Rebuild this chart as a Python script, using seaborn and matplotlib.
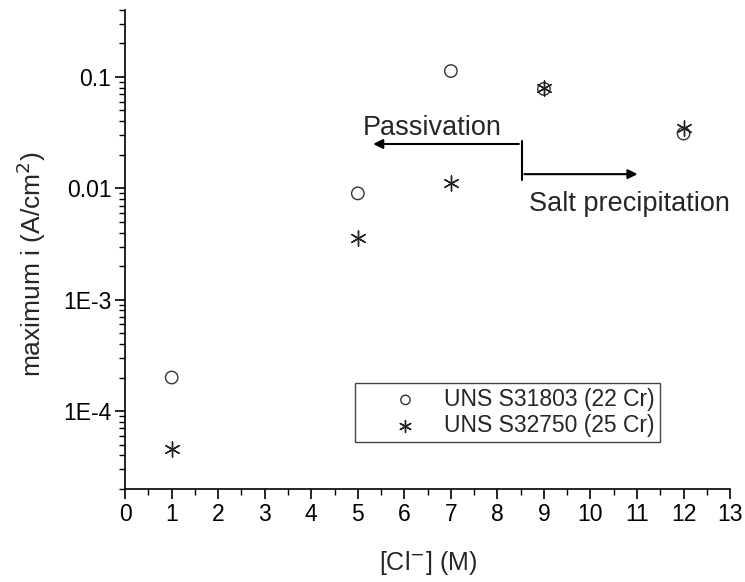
import matplotlib
matplotlib.use('Agg')
import matplotlib.pyplot as plt
import seaborn as sns
import pandas as pd

# chloride concentration (M)
cl_conc = [1, 5, 7, 9, 12]
# maximum current density (A/cm2)
i_22cr = [2.0e-4, 9.0e-3, 0.113, 0.078, 0.031]
i_25cr = [4.6e-5, 3.6e-3, 0.0111, 0.079, 0.035]
labels = ['UNS S31803 (22 Cr)', 'UNS S32750 (25 Cr)']

df22 = pd.DataFrame({'cl': cl_conc, 'i': i_22cr})
df25 = pd.DataFrame({'cl': cl_conc, 'i': i_25cr})

sns.set_style('ticks')
plt.rcParams['font.family'] = ['Liberation Sans', 'DejaVu Sans']

fig = plt.figure(figsize=(7.45, 5.82), dpi=100)
ax = fig.add_axes([0.168, 0.16, 0.812, 0.823])

sns.scatterplot(data=df22, x='cl', y='i', ax=ax, marker='o', s=80,
                facecolor='none', edgecolor='#333333', linewidth=1.0, label=labels[0])
sns.scatterplot(data=df25, x='cl', y='i', ax=ax, marker=(6, 2, 0), s=120,
                color='#222222', linewidth=1.0, label=labels[1])

ax.set_yscale('log')
ax.set_xlim(0, 13)
ax.set_ylim(2e-5, 0.4)
ax.set_xticks(range(0, 14))
ax.set_xticks([x + 0.5 for x in range(13)], minor=True)
ax.set_yticks([1e-4, 1e-3, 1e-2, 1e-1])
ax.set_yticklabels(['1E-4', '1E-3', '0.01', '0.1'])

for side in ['top', 'right']:
    ax.spines[side].set_visible(False)
for side in ['left', 'bottom']:
    ax.spines[side].set_linewidth(1.2)
    ax.spines[side].set_color('black')
ax.tick_params(which='major', direction='out', length=7, width=1.2, labelsize=16.5,
               colors='black', pad=3)
ax.tick_params(which='minor', direction='out', length=4, width=1.0, colors='black')

ax.set_xlabel('[Cl$^{-}$] (M)', fontsize=18, labelpad=17)
ax.set_ylabel('maximum i (A/cm$^{2}$)', fontsize=19)
ax.yaxis.set_label_coords(-0.128, 0.47)

# direction arrows
ax.plot([8.52, 8.52], [0.0118, 0.0265], color='black', lw=1.5)
ax.annotate('', xy=(5.27, 0.025), xytext=(8.52, 0.025),
            arrowprops=dict(arrowstyle='-|>', color='black', lw=1.5, mutation_scale=14))
ax.annotate('', xy=(11.07, 0.0134), xytext=(8.52, 0.0134),
            arrowprops=dict(arrowstyle='-|>', color='black', lw=1.5, mutation_scale=14))
ax.text(5.1, 0.0348, 'Passivation', fontsize=19.5, va='center', ha='left')
ax.text(8.68, 0.0073, 'Salt precipitation', fontsize=19.5, va='center', ha='left')

leg = ax.legend(loc='lower left', bbox_to_anchor=(0.38, 0.098), fontsize=16.5,
                frameon=True, fancybox=False, edgecolor='#444444', framealpha=1,
                borderpad=0.2, handlelength=4, handletextpad=-0.3, labelspacing=0.15,
                borderaxespad=0)
leg.get_frame().set_linewidth(1.0)
leg.legend_handles[0].set_sizes([45])
leg.legend_handles[1].set_sizes([75])

fig.savefig('out.png', dpi=100)
